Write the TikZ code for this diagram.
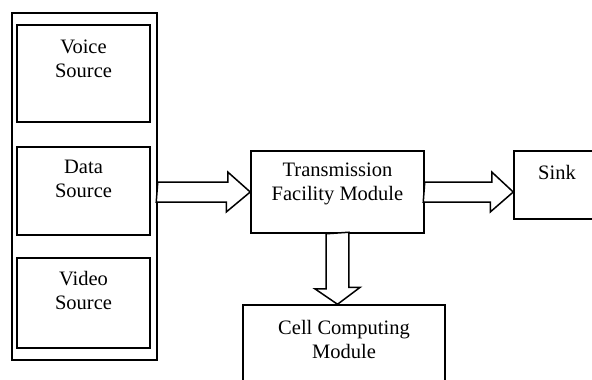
\documentclass[tikz,border=0pt]{standalone}
\usepackage{fontspec}
\setmainfont{Liberation Serif}
\usepackage{tikz}
\usetikzlibrary{calc}
\usetikzlibrary{positioning}

\tikzset{
  box/.style={draw, line width=1.5pt, inner sep=0pt},
  lbl/.style={align=center, inner sep=0pt, font=\fontsize{20.5}{24}\selectfont},
  blockarrow/.style={draw, line width=1.5pt, fill=white, line join=miter}
}

\begin{document}
\begin{tikzpicture}[x=1pt, y=-1pt]
\useasboundingbox (0,0) rectangle (592,380);
\clip (0,0) rectangle (592,380);
\node[box, minimum width=145, minimum height=347] (src) at (84.5,186.5) {};
\node[box, minimum width=133, minimum height=97] (voice) at (83.5,73.5) {};
\node[box, minimum width=133, minimum height=88] (data) at (83.5,191) {};
\node[box, minimum width=133, minimum height=90] (video) at (83.5,303) {};
\node[box, minimum width=173, minimum height=82] (tfm) at (337.5,192) {};
\node[box, minimum width=86, minimum height=68] (sink) at (557,185) {};
\node[box, minimum width=202, minimum height=95] (ccm) at (344,352.5) {};
\node[lbl] (voicetxt) at ($(voice.north)+(0,35)$) {Voice\\Source};
\node[lbl] (datatxt) at ($(data.north)+(0,33)$) {Data\\Source};
\node[lbl] (videotxt) at ($(video.north)+(0,33.5)$) {Video\\Source};
\node[lbl] (tfmtxt) at ($(tfm.north)+(0,34)$) {Transmission\\Facility Module};
\node[lbl] (sinktxt) at ($(sink.north)+(0,22)$) {Sink};
\node[lbl] (ccmtxt) at ($(ccm.north)+(0,35)$) {Cell Computing\\Module};
\draw[blockarrow] ($(src.east |- tfm.west)+(0,-10)$) -- ++(70,0) -- ++(0,-10)
  -- (tfm.west) -- ++(-24,20) -- ++(0,-10) -- ++(-70,0) -- cycle;
\draw[blockarrow] ($(tfm.east)+(0,-10)$) -- ++(67,0) -- ++(0,-10)
  -- (sink.west |- tfm.east) -- ++(-23,20) -- ++(0,-10) -- ++(-67,0) -- cycle;
\draw[blockarrow] ($(tfm.south)+(-11.3,0)$) -- ++(0,55) -- ++(-11.4,0)
  -- (tfm.south |- ccm.north) -- ++(22.7,-17) -- ++(-11.4,0) -- ++(0,-55) -- cycle;
\end{tikzpicture}
\end{document}
